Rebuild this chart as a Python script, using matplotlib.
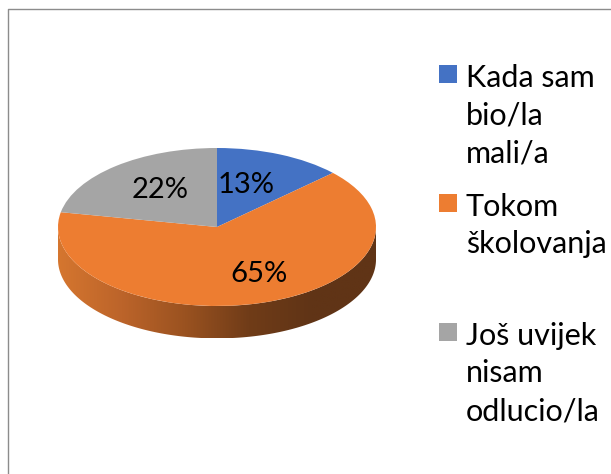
import matplotlib.pyplot as plt
import numpy as np
from matplotlib.patches import Rectangle, Polygon
from matplotlib.colors import LinearSegmentedColormap

plt.rcParams['font.family'] = ['Lato', 'DejaVu Sans']

# data
categories = ['Kada sam\nbio/la\nmali/a', 'Tokom\nškolovanja', 'Još uvijek\nnisam\nodlucio/la']
values = [13, 65, 22]
pct_labels = ['13%', '65%', '22%']
colors = ['#4472C4', '#ED7D31', '#A5A5A5']
side_colors = ['#D5762F', '#BC642A', '#9A5220', '#703C18', '#603416', '#603416']

# layout (pixels)
W, H = 611, 474
cx, cy, rx, ry = 217, 227, 159, 79   # pie centre and radii
depth = 0.41                         # pie thickness, in vertical radii
label_xy = [(246.5, 193), (259.5, 282), (160, 198)]

fig = plt.figure(figsize=(W / 100, H / 100), dpi=100)

# pie axes: x unit = rx px, y unit = ry px -> flattened (3D look) pie
ylo, yhi = -1.6, 1.2
ax = fig.add_axes([(cx - rx) / W, (H - cy + ylo * ry) / H, 2 * rx / W, (yhi - ylo) * ry / H])

# side wall of the front half, with a left-to-right gradient
theta = np.linspace(np.pi, 2 * np.pi, 300)
top = np.column_stack([np.cos(theta), np.sin(theta)])
bot = np.column_stack([np.cos(theta[::-1]), np.sin(theta[::-1]) - depth])
side = Polygon(np.vstack([top, bot]), closed=True, facecolor='none', edgecolor='none')
ax.add_patch(side)
cmap = LinearSegmentedColormap.from_list('side', side_colors)
grad = np.linspace(0, 1, 256).reshape(1, -1)
im = ax.imshow(grad, cmap=cmap, extent=[-1, 1, -1 - depth, 0], aspect='auto',
               interpolation='bilinear', zorder=1)
im.set_clip_path(side)

# top face
ax.pie(values, colors=colors, startangle=90, counterclock=False, radius=1,
       wedgeprops=dict(linewidth=0, zorder=2))
ax.set_xlim(-1, 1)
ax.set_ylim(ylo, yhi)
ax.set_aspect('auto')
ax.axis('off')

# pixel overlay for frame, labels and legend
lax = fig.add_axes([0, 0, 1, 1])
lax.set_xlim(0, W)
lax.set_ylim(H, 0)
lax.set_facecolor('none')
lax.axis('off')

lax.plot([7.5, 7.5, W + 5], [H + 5, 8.5, 8.5], color='#8C8C8C', lw=1)

for txt, (x, y) in zip(pct_labels, label_xy):
    lax.text(x, y, txt, fontsize=21, ha='center', va='baseline', color='black')

slot = 129
for i, (lab, col) in enumerate(zip(categories, colors)):
    ytop = 65 + i * slot
    lax.add_patch(Rectangle((439, ytop), 18, 18, facecolor=col, linewidth=0))
    for j, line in enumerate(lab.split('\n')):
        lax.text(466, ytop + 22 + j * 37.5, line, fontsize=22, va='baseline', color='black')

fig.savefig('out.png', dpi=100)
